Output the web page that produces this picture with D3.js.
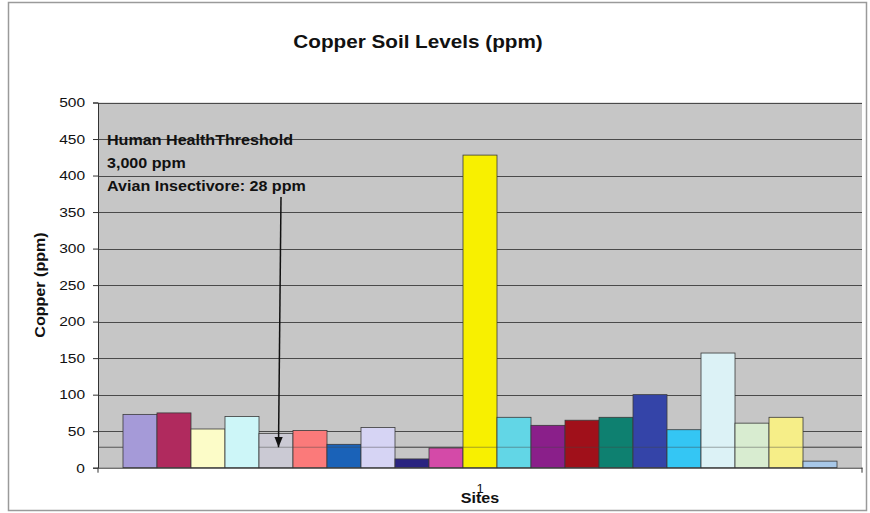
<!DOCTYPE html>
<html>
<head>
<meta charset="utf-8">
<script src="https://cdn.jsdelivr.net/npm/d3@7"></script>
<style>
  html, body { margin: 0; padding: 0; background: #ffffff; }
  svg { display: block; font-family: "Liberation Sans", Arial, sans-serif; }
</style>
</head>
<body>
<svg id="chart" width="870" height="513"></svg>
<script>
// Copper concentrations per sampling site (ppm), one series per site
const sites = ["Site 1","Site 2","Site 3","Site 4","Site 5","Site 6","Site 7","Site 8","Site 9","Site 10",
               "Site 11","Site 12","Site 13","Site 14","Site 15","Site 16","Site 17","Site 18","Site 19","Site 20","Site 21"];
const copperValues = [73, 75, 53, 70, 47, 51, 32, 55, 12, 27, 428, 69, 58, 65, 69, 100, 52, 157, 61, 69, 9];
const siteColors = ["#a59ad8","#b02a5e","#fcfcc8","#cdf6f8","#cbcad4","#fb7a7a","#1a62b8","#d6d4f4","#2a2480","#d44aa8",
                    "#f8f000","#62d6e6","#8a1f8a","#a0101a","#0e8070","#3444a8","#34c6f4","#dcf2f6","#d8ecd0","#f6ee88","#a8c8e8"];
const yTicks = [0, 50, 100, 150, 200, 250, 300, 350, 400, 450, 500];
const categoryLabel = "1";
const avianThreshold = 28;
const annotationLines = ["Human HealthThreshold", "3,000 ppm", "Avian Insectivore: 28 ppm"];

const svg = d3.select("#chart");
const W = 870, H = 513;
const plot = { left: 98, right: 862, top: 102.5, bottom: 467.7 };
const WIDE = 1.15; // horizontal stretch applied to the chart's lettering

// draws a text stretched along its baseline, anchored at (x, y)
function wideText(parent, x, y, str, opts) {
  const g = parent.append("g").attr("transform",
    `translate(${x},${y})` + (opts.rotate ? ` rotate(${opts.rotate})` : "") + ` scale(${WIDE},1)`);
  return g.append("text")
    .attr("x", 0).attr("y", 0)
    .attr("text-anchor", opts.anchor || "start")
    .attr("font-size", opts.size)
    .attr("font-weight", opts.bold ? "bold" : "normal")
    .attr("fill", "#111111")
    .text(str);
}

// outer chart border
svg.append("rect")
  .attr("x", 8.5).attr("y", 2.5).attr("width", W - 12).attr("height", H - 5)
  .attr("fill", "#ffffff").attr("stroke", "#9a9a9a").attr("stroke-width", 1.5);

const y = d3.scaleLinear().domain([0, 500]).range([plot.bottom, plot.top]);
const x = d3.scaleBand().domain(sites).range([plot.left, plot.right])
  .paddingInner(0).paddingOuter(0.735);

// plot background
svg.append("rect")
  .attr("x", plot.left).attr("y", plot.top)
  .attr("width", plot.right - plot.left).attr("height", plot.bottom - plot.top)
  .attr("fill", "#c6c6c6");

// horizontal gridlines
svg.append("g").selectAll("line").data(yTicks.slice(1)).join("line")
  .attr("x1", plot.left).attr("x2", plot.right)
  .attr("y1", d => Math.round(y(d)) + 0.5).attr("y2", d => Math.round(y(d)) + 0.5)
  .attr("stroke", "#4a4a4a").attr("stroke-width", 1);

// avian insectivore threshold line (behind bars)
svg.append("line")
  .attr("x1", plot.left).attr("x2", plot.right)
  .attr("y1", y(avianThreshold)).attr("y2", y(avianThreshold))
  .attr("stroke", "#555555").attr("stroke-width", 1);

// bars
svg.append("g").selectAll("rect").data(copperValues).join("rect")
  .attr("x", (d, i) => x(sites[i]))
  .attr("y", d => y(d))
  .attr("width", x.bandwidth())
  .attr("height", d => y(0) - y(d))
  .attr("fill", (d, i) => siteColors[i])
  .attr("stroke", "#3a3a3a").attr("stroke-width", 0.8);

// threshold line showing through the later bars
svg.append("line")
  .attr("x1", x(sites[4])).attr("x2", plot.right)
  .attr("y1", y(avianThreshold)).attr("y2", y(avianThreshold))
  .attr("stroke", "#444444").attr("stroke-width", 1).attr("opacity", 0.45);

// y axis
const yAxis = d3.axisLeft(y).tickValues(yTicks).tickSize(5).tickPadding(6.3);
const gy = svg.append("g").attr("transform", `translate(${plot.left},0)`).call(yAxis);
gy.select(".domain").attr("stroke", "#333333");
gy.selectAll(".tick line").attr("stroke", "#333333");
gy.selectAll(".tick text").attr("font-size", 13.5).attr("fill", "#111111")
  .attr("font-family", "'Liberation Sans', Arial, sans-serif")
  .attr("transform", `scale(${WIDE},1)`);

// x axis (single category)
const xCat = d3.scaleBand().domain([categoryLabel]).range([plot.left, plot.right]);
const gx = svg.append("g").attr("transform", `translate(0,${plot.bottom})`)
  .call(d3.axisBottom(xCat).tickSize(0).tickPadding(16));
gx.select(".domain").attr("stroke", "#333333");
gx.selectAll(".tick text").attr("font-size", 13).attr("fill", "#111111")
  .attr("font-family", "'Liberation Sans', Arial, sans-serif");
// category boundary ticks
gx.selectAll("line.edge").data([plot.left, plot.right]).join("line")
  .attr("class", "edge")
  .attr("x1", d => d).attr("x2", d => d).attr("y1", 0).attr("y2", 5)
  .attr("stroke", "#333333");

// title
wideText(svg, 418, 48, "Copper Soil Levels (ppm)", { size: 18, bold: true, anchor: "middle" });

// axis titles
wideText(svg, 480, 503, "Sites", { size: 14, bold: true, anchor: "middle" });
wideText(svg, 45, 285, "Copper (ppm)", { size: 14, bold: true, anchor: "middle", rotate: -90 });

// annotation
annotationLines.forEach((line, i) => {
  wideText(svg, 107, 145 + i * 23, line, { size: 14, bold: true });
});

// arrow pointing to the avian threshold
svg.append("defs").append("marker")
  .attr("id", "arrowhead").attr("viewBox", "0 0 10 10")
  .attr("refX", 10).attr("refY", 5)
  .attr("markerWidth", 7).attr("markerHeight", 7)
  .attr("orient", "auto")
  .append("path").attr("d", "M0,1 L10,5 L0,9 Z").attr("fill", "#111111");
svg.append("line")
  .attr("x1", 281).attr("y1", 197)
  .attr("x2", 278.5).attr("y2", y(avianThreshold))
  .attr("stroke", "#111111").attr("stroke-width", 1.5)
  .attr("marker-end", "url(#arrowhead)");
</script>
</body>
</html>
